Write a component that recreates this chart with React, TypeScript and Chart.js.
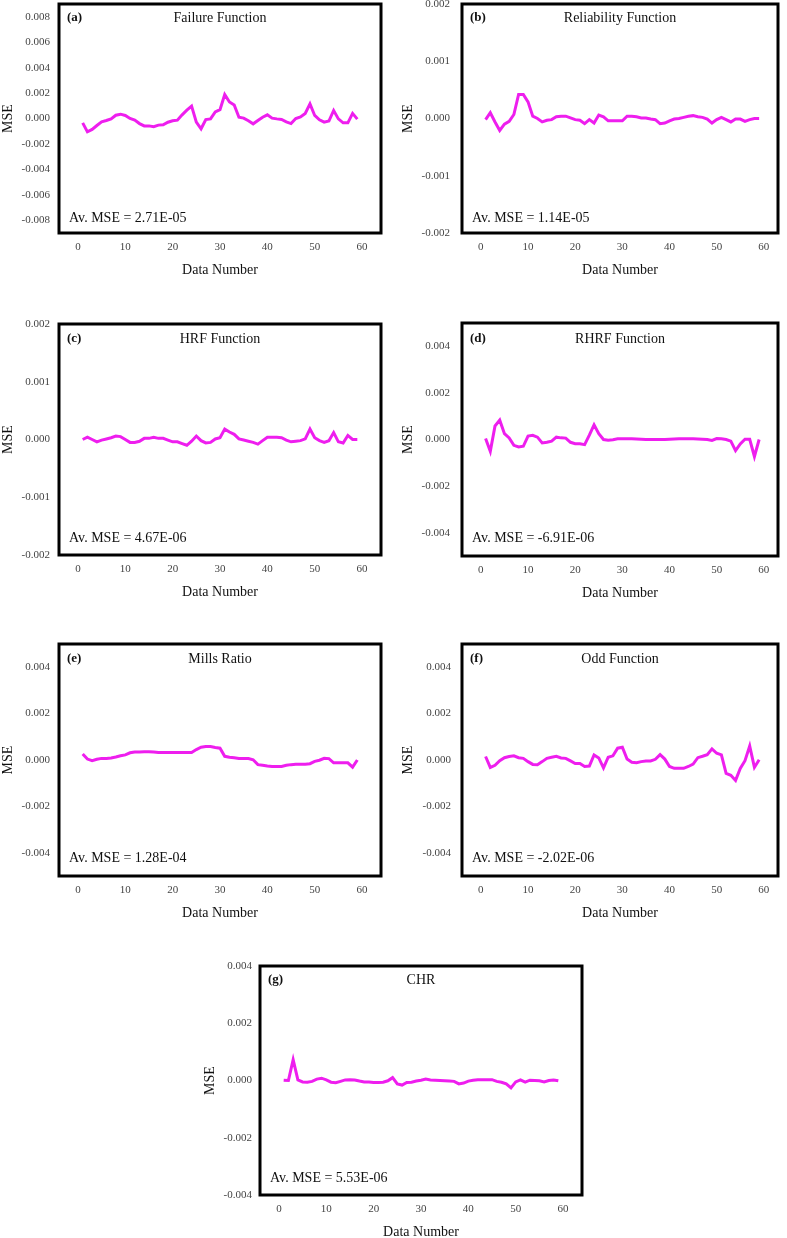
import React, { useEffect, useRef } from "react";
import { Chart, registerables } from "chart.js";

Chart.register(...registerables);

// ---------- data ----------
const dataNumbers = [
  1, 2, 3, 4, 5, 6, 7, 8, 9, 10, 11, 12, 13, 14, 15, 16, 17, 18, 19, 20,
  21, 22, 23, 24, 25, 26, 27, 28, 29, 30, 31, 32, 33, 34, 35, 36, 37, 38, 39, 40,
  41, 42, 43, 44, 45, 46, 47, 48, 49, 50, 51, 52, 53, 54, 55, 56, 57, 58, 59,
];

const xTickValues = [0, 10, 20, 30, 40, 50, 60];
const yTicksFailure = [-0.008, -0.006, -0.004, -0.002, 0, 0.002, 0.004, 0.006, 0.008];
const yTicksSmall = [-0.002, -0.001, 0, 0.001, 0.002];
const yTicksMid = [-0.004, -0.002, 0, 0.002, 0.004];

const failureMSE = [
  -0.00034, -0.00105, -0.00086, -0.00055, -0.00026, -0.00016, -0.00003, 0.00026, 0.00034, 0.00024,
  0.0, -0.00013, -0.0004, -0.00058, -0.00058, -0.00065, -0.00052, -0.0005, -0.00029, -0.00018,
  -0.00013, 0.00029, 0.00065, 0.00097, -0.00029, -0.00081, -0.00008, -0.00003, 0.00052, 0.0007,
  0.00188, 0.0013, 0.00107, 0.0001, 0.00003, -0.00018, -0.00042, -0.00016, 0.0001, 0.00029,
  0.00003, -0.00003, -0.00008, -0.00026, -0.0004, 0.0, 0.00013, 0.0004, 0.00115, 0.00024,
  -0.0001, -0.00029, -0.0002, 0.00063, -0.00003, -0.00034, -0.00034, 0.0004, -0.00005,
];

const reliabilityMSE = [
  -0.00002, 0.0001, -0.00006, -0.00021, -0.0001, -0.00005, 0.00007, 0.00042, 0.00042, 0.00029,
  0.00004, 0.0, -0.00006, -0.00003, -0.00002, 0.00003, 0.00004, 0.00004, 0.00001, -0.00002,
  -0.00003, -0.00009, -0.00002, -0.00008, 0.00006, 0.00003, -0.00004, -0.00004, -0.00004, -0.00004,
  0.00004, 0.00004, 0.00003, 0.00001, 0.00001, -0.00001, -0.00002, -0.00009, -0.00008, -0.00004,
  -0.00001, 0.0, 0.00002, 0.00004, 0.00005, 0.00003, 0.00002, -0.00001, -0.00008, -0.00002,
  0.00002, -0.00002, -0.00006, -0.00001, -0.00001, -0.00005, -0.00002, 0.0, 0.0,
];

const hrfMSE = [
  0.0, 0.00004, 0.0, -0.00004, -0.00001, 0.00001, 0.00003, 0.00006, 0.00005, 0.0,
  -0.00005, -0.00005, -0.00003, 0.00002, 0.00002, 0.00004, 0.00002, 0.00002, -0.00001, -0.00004,
  -0.00004, -0.00007, -0.0001, -0.00003, 0.00006, -0.00002, -0.00006, -0.00005, 0.00001, 0.00003,
  0.00018, 0.00013, 0.00009, 0.00001, -0.00001, -0.00003, -0.00005, -0.00008, -0.00002, 0.00004,
  0.00004, 0.00004, 0.00003, -0.00001, -0.00004, -0.00003, -0.00002, 0.00001, 0.00018, 0.00003,
  -0.00002, -0.00005, -0.00002, 0.00012, -0.00004, -0.00006, 0.00007, 0.0, 0.0,
];

const rhrfMSE = [
  0.00004, -0.00051, 0.00058, 0.00083, 0.00025, 0.00007, -0.00025, -0.00032, -0.00029, 0.00015,
  0.00018, 0.0001, -0.00015, -0.00012, -0.00007, 0.0001, 0.00007, 0.00006, -0.00012, -0.00018,
  -0.00018, -0.00022, 0.00019, 0.00063, 0.00025, 0.0, -0.00003, -0.00001, 0.00003, 0.00003,
  0.00003, 0.00003, 0.00002, 0.00001, 0.0, 0.0, 0.0, 0.0, 0.0, 0.00001,
  0.00002, 0.00003, 0.00003, 0.00003, 0.00003, 0.00002, 0.00001, 0.0, -0.00004, 0.00004,
  0.00003, 0.0, -0.00007, -0.00048, -0.00019, 0.00001, 0.00001, -0.00073, 0.0,
];

const millsMSE = [
  0.00026, 0.00004, -0.00003, 0.00003, 0.00007, 0.00007, 0.00009, 0.00013, 0.00018, 0.00022,
  0.00031, 0.00034, 0.00035, 0.00036, 0.00036, 0.00034, 0.00032, 0.00032, 0.00032, 0.00032,
  0.00032, 0.00032, 0.00032, 0.00032, 0.00045, 0.00055, 0.00058, 0.00058, 0.00054, 0.00051,
  0.00016, 0.00012, 0.0001, 0.00007, 0.00007, 0.00006, 0.00001, -0.0002, -0.00023, -0.00026,
  -0.00028, -0.00028, -0.00028, -0.00023, -0.0002, -0.00018, -0.00018, -0.00018, -0.00016, -0.00006,
  -0.00001, 0.00007, 0.00006, -0.00012, -0.00012, -0.00012, -0.00012, -0.00031, 0.0,
];

const oddMSE = [
  0.00015, -0.00032, -0.00023, -0.00003, 0.0001, 0.00015, 0.00018, 0.0001, 0.00007, -0.00007,
  -0.00019, -0.0002, -0.00007, 0.00007, 0.00012, 0.00016, 0.00009, 0.00007, -0.00004, -0.00015,
  -0.00015, -0.00028, -0.00026, 0.00022, 0.00009, -0.00034, 0.00012, 0.00018, 0.00051, 0.00055,
  0.00004, -0.0001, -0.00012, -0.00007, -0.00004, -0.00004, 0.00003, 0.00023, 0.00004, -0.00028,
  -0.00036, -0.00036, -0.00036, -0.00028, -0.00018, 0.0001, 0.00016, 0.00023, 0.00048, 0.00029,
  0.00022, -0.00058, -0.00066, -0.00088, -0.00036, -0.00003, 0.0006, -0.00032, 0.00001,
];

const chrMSE = [
  0.00001, 0.0, 0.00073, 0.00002, -0.00005, -0.00006, -0.00003, 0.00005, 0.00008, 0.00002,
  -0.00006, -0.00008, -0.00003, 0.00002, 0.00003, 0.00002, -0.00002, -0.00005, -0.00005, -0.00007,
  -0.00007, -0.00006, -0.00001, 0.0001, -0.00012, -0.00016, -0.00007, -0.00006, -0.00002, 0.00001,
  0.00005, 0.00002, 0.00001, 0.0, -0.00001, -0.00002, -0.00003, -0.00012, -0.00009, -0.00002,
  0.00001, 0.00003, 0.00003, 0.00003, 0.00003, -0.00003, -0.00006, -0.00012, -0.00026, -0.00005,
  0.00002, -0.00006, 0.00001, 0.0, -0.00001, -0.00005, 0.0, 0.00002, -0.00001,
];

const panelLabels = ["(a)", "(b)", "(c)", "(d)", "(e)", "(f)", "(g)"];
const panelTitles = [
  "Failure Function",
  "Reliability Function",
  "HRF Function",
  "RHRF Function",
  "Mills Ratio",
  "Odd Function",
  "CHR",
];
const averageMSE = ["2.71E-05", "1.14E-05", "4.67E-06", "-6.91E-06", "1.28E-04", "-2.02E-06", "5.53E-06"];

// ---------- layout ----------
type Spec = {
  left: number; top: number; w: number; h: number;
  frame: [number, number, number, number];
  xMin: number; xMax: number; yMin: number; yMax: number;
  yTicks: number[]; yPad: number; titleDy: number; avgDy: number;
  values: number[]; label: string; title: string; avg: string;
};

const SERIF = '"Liberation Serif", "Times New Roman", serif';

const specs: Spec[] = [
  { left: 0, top: 0, w: 390, h: 279, frame: [59, 4, 381, 233], xMin: -4, xMax: 64, yMin: -0.009, yMax: 0.009, yTicks: yTicksFailure, yPad: 9, titleDy: 14, avgDy: 15, values: failureMSE, label: panelLabels[0], title: panelTitles[0], avg: averageMSE[0] },
  { left: 400, top: 0, w: 387, h: 279, frame: [462, 4, 778, 233], xMin: -4, xMax: 63, yMin: -0.002, yMax: 0.002, yTicks: yTicksSmall, yPad: 12, titleDy: 14, avgDy: 15, values: reliabilityMSE, label: panelLabels[1], title: panelTitles[1], avg: averageMSE[1] },
  { left: 0, top: 300, w: 390, h: 301, frame: [59, 324, 381, 555], xMin: -4, xMax: 64, yMin: -0.002, yMax: 0.002, yTicks: yTicksSmall, yPad: 9, titleDy: 15, avgDy: 17, values: hrfMSE, label: panelLabels[2], title: panelTitles[2], avg: averageMSE[2] },
  { left: 400, top: 300, w: 387, h: 302, frame: [462, 323, 778, 556], xMin: -4, xMax: 63, yMin: -0.005, yMax: 0.005, yTicks: yTicksMid, yPad: 12, titleDy: 16, avgDy: 18, values: rhrfMSE, label: panelLabels[3], title: panelTitles[3], avg: averageMSE[3] },
  { left: 0, top: 620, w: 390, h: 302, frame: [59, 644, 381, 876], xMin: -4, xMax: 64, yMin: -0.005, yMax: 0.005, yTicks: yTicksMid, yPad: 9, titleDy: 15, avgDy: 18, values: millsMSE, label: panelLabels[4], title: panelTitles[4], avg: averageMSE[4] },
  { left: 400, top: 620, w: 387, h: 302, frame: [462, 644, 778, 876], xMin: -4, xMax: 63, yMin: -0.005, yMax: 0.005, yTicks: yTicksMid, yPad: 11, titleDy: 15, avgDy: 18, values: oddMSE, label: panelLabels[5], title: panelTitles[5], avg: averageMSE[5] },
  { left: 202, top: 950, w: 398, h: 291, frame: [260, 966, 582, 1195], xMin: -4, xMax: 64, yMin: -0.004, yMax: 0.004, yTicks: yTicksMid, yPad: 8, titleDy: 14, avgDy: 17, values: chrMSE, label: panelLabels[6], title: panelTitles[6], avg: averageMSE[6] },
];

function Panel({ spec }: { spec: Spec }) {
  const ref = useRef<HTMLCanvasElement | null>(null);

  useEffect(() => {
    const s = spec;
    const [L, T, R, B] = s.frame;
    const padTop = T - s.top;
    const padRight = s.left + s.w - R;
    const yWidth = L - s.left;
    const xHeight = s.top + s.h - B;

    const framePlugin = {
      id: "panelFrame",
      afterDraw(chart: any) {
        const { ctx, chartArea: a } = chart;
        ctx.save();
        ctx.strokeStyle = "#000";
        ctx.lineWidth = 3;
        ctx.strokeRect(a.left, a.top, a.right - a.left, a.bottom - a.top);
        ctx.fillStyle = "#111";
        ctx.textBaseline = "middle";
        ctx.font = `bold 13px ${SERIF}`;
        ctx.textAlign = "left";
        ctx.fillText(s.label, a.left + 8, a.top + s.titleDy);
        ctx.font = `14px ${SERIF}`;
        ctx.textAlign = "center";
        ctx.fillText(s.title, (a.left + a.right) / 2, a.top + s.titleDy);
        ctx.textAlign = "left";
        ctx.fillText("Av. MSE = " + s.avg, a.left + 10, a.bottom - s.avgDy);
        ctx.restore();
      },
    };

    const chart = new Chart(ref.current as HTMLCanvasElement, {
      type: "line",
      data: {
        datasets: [
          {
            data: dataNumbers.map((x, i) => ({ x, y: s.values[i] })),
            borderColor: "#EE1EEE",
            borderWidth: 3,
            pointRadius: 0,
            fill: false,
            tension: 0,
          },
        ],
      },
      options: {
        animation: false,
        responsive: false,
        maintainAspectRatio: false,
        layout: { padding: { top: padTop, right: padRight, left: 0, bottom: 0 } },
        plugins: { legend: { display: false }, tooltip: { enabled: false } },
        scales: {
          x: {
            type: "linear",
            min: s.xMin,
            max: s.xMax,
            grid: { display: false, drawTicks: false },
            border: { display: false },
            afterBuildTicks: (axis: any) => {
              axis.ticks = xTickValues.map((v) => ({ value: v }));
            },
            afterFit: (sc: any) => {
              sc.height = xHeight;
              sc.paddingLeft = 0;
              sc.paddingRight = 0;
            },
            ticks: {
              padding: 8,
              color: "#444",
              autoSkip: false,
              maxRotation: 0,
              font: { family: SERIF, size: 11 },
              callback: (v: any) => String(v),
            },
            title: {
              display: true,
              text: "Data Number",
              color: "#111",
              font: { family: SERIF, size: 14 },
              padding: { top: 0, bottom: 0 },
            },
          },
          y: {
            type: "linear",
            min: s.yMin,
            max: s.yMax,
            grid: { display: false, drawTicks: false },
            border: { display: false },
            afterBuildTicks: (axis: any) => {
              axis.ticks = s.yTicks.map((v) => ({ value: v }));
            },
            afterFit: (sc: any) => {
              sc.width = yWidth;
              sc.paddingTop = 0;
              sc.paddingBottom = 0;
            },
            ticks: {
              padding: s.yPad,
              color: "#444",
              autoSkip: false,
              font: { family: SERIF, size: 11 },
              callback: (v: any) => Number(v).toFixed(3),
            },
            title: {
              display: true,
              text: "MSE",
              color: "#111",
              font: { family: SERIF, size: 14 },
              padding: { top: 0, bottom: 0 },
            },
          },
        },
      } as any,
      plugins: [framePlugin],
    });

    return () => chart.destroy();
  }, [spec]);

  return (
    <canvas
      ref={ref}
      width={spec.w}
      height={spec.h}
      style={{ position: "absolute", left: spec.left, top: spec.top, width: spec.w, height: spec.h }}
    />
  );
}

export default function App() {
  return (
    <div
      style={{
        position: "absolute",
        left: 0,
        top: 0,
        width: 787,
        height: 1238,
        overflow: "hidden",
        background: "#fff",
      }}
    >
      {specs.map((s, i) => (
        <Panel key={i} spec={s} />
      ))}
    </div>
  );
}
